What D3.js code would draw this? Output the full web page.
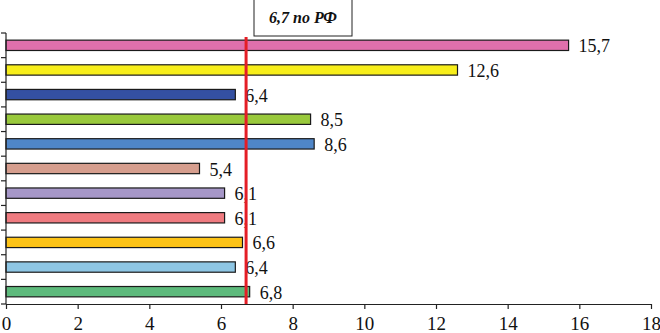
<!DOCTYPE html>
<html>
<head>
<meta charset="utf-8">
<script src="https://cdn.jsdelivr.net/npm/d3@7"></script>
<style>
  html, body { margin: 0; padding: 0; background: #fff; }
  svg { display: block; }
</style>
</head>
<body>
<div id="chart"></div>
<script>
// Bars listed top to bottom, as in the picture
const categories = ["c1","c2","c3","c4","c5","c6","c7","c8","c9","c10","c11"];
const values     = [15.7, 12.6, 6.4, 8.5, 8.6, 5.4, 6.1, 6.1, 6.6, 6.4, 6.8];
const labels     = ["15,7","12,6","6,4","8,5","8,6","5,4","6,1","6,1","6,6","6,4","6,8"];
const colors     = ["#e070ac","#f7ee1a","#3450a2","#99c93c","#4f86c8","#d69e8e",
                    "#a697c8","#ef7b80","#fdc316","#8ec6e4","#5dba7c"];
const xTicks     = [0, 2, 4, 6, 8, 10, 12, 14, 16, 18];
const refValue   = 6.7;
const refLabel   = "6,7 по РФ";

const width = 660, height = 333;
const margin = { top: 33, right: 9, bottom: 29, left: 6 };
const innerW = width - margin.left - margin.right;
const innerH = height - margin.top - margin.bottom;
const serif = "'Liberation Serif', 'Times New Roman', serif";

const svg = d3.select("#chart").append("svg")
    .attr("width", width).attr("height", height);

const g = svg.append("g").attr("transform", `translate(${margin.left},${margin.top})`);

const x = d3.scaleLinear().domain([0, 18]).range([0, innerW]);
const y = d3.scaleBand().domain(categories).range([0, innerH]).paddingInner(0.58).paddingOuter(0.29);

// bars
g.selectAll("rect.bar")
    .data(values)
    .join("rect").attr("class", "bar")
    .attr("x", 0)
    .attr("y", (d, i) => y(categories[i]))
    .attr("width", d => x(d))
    .attr("height", y.bandwidth())
    .attr("fill", (d, i) => colors[i])
    .attr("stroke", "#1a1a1a")
    .attr("stroke-width", 1.2);

// value labels
g.selectAll("text.val")
    .data(values)
    .join("text").attr("class", "val")
    .attr("x", d => x(d) + 10)
    .attr("y", (d, i) => y(categories[i]) + y.bandwidth() / 2 + 7)
    .style("font-family", serif)
    .style("font-size", "18px")
    .style("fill", "#111")
    .text((d, i) => labels[i]);

// x axis
const xAxis = g.append("g").attr("transform", `translate(0,${innerH})`)
    .call(d3.axisBottom(x).tickValues(xTicks).tickSize(5).tickSizeOuter(0).tickFormat(d3.format("d")));
xAxis.select(".domain").attr("stroke", "#222").attr("stroke-width", 1.2);
xAxis.selectAll(".tick line").attr("stroke", "#222").attr("stroke-width", 1.2);
xAxis.selectAll("text")
    .attr("y", 13)
    .style("font-family", serif)
    .style("font-size", "19px")
    .style("fill", "#111");

// y axis: ticks between categories, no labels
const yLine = g.append("g");
yLine.append("line").attr("x1", 0).attr("x2", 0).attr("y1", 0).attr("y2", innerH)
    .attr("stroke", "#222").attr("stroke-width", 1.2);
const step = y.step();
const yTicks = d3.range(categories.length + 1).map(i => y.range()[0] + i * step);
yLine.selectAll("line.tk")
    .data(yTicks)
    .join("line").attr("class", "tk")
    .attr("x1", -5).attr("x2", 0)
    .attr("y1", d => d).attr("y2", d => d)
    .attr("stroke", "#222").attr("stroke-width", 1.2);

// reference line
g.append("line")
    .attr("x1", x(refValue)).attr("x2", x(refValue))
    .attr("y1", 4).attr("y2", innerH)
    .attr("stroke", "#e41e26").attr("stroke-width", 3);

// reference label box
const box = svg.append("g").attr("transform", "translate(254,0)");
box.append("rect").attr("x", 0).attr("y", -2).attr("width", 98).attr("height", 38)
    .attr("fill", "#fff").attr("stroke", "#222").attr("stroke-width", 1);
box.append("text").attr("x", 49).attr("y", 23)
    .attr("text-anchor", "middle")
    .style("font-family", serif)
    .style("font-size", "16px").style("font-weight", "bold").style("font-style", "italic")
    .style("fill", "#111")
    .text(refLabel);
</script>
</body>
</html>
